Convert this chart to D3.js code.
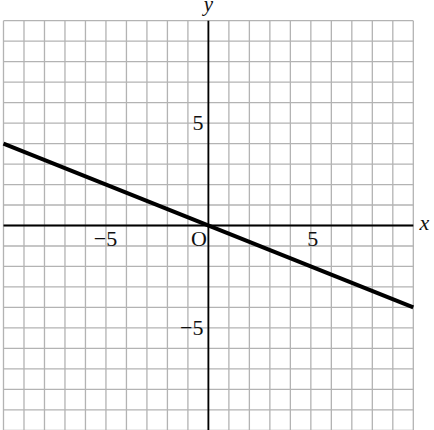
<!DOCTYPE html>
<html>
<head>
<meta charset="utf-8">
<script src="https://cdn.jsdelivr.net/npm/d3@7"></script>
<style>
  html, body { margin: 0; padding: 0; background: #fff; }
  svg { display: block; }
  text { font-family: "Liberation Serif", "DejaVu Serif", serif; fill: #111; }
</style>
</head>
<body>
<svg id="chart" width="434" height="430"></svg>
<script>
// grid runs from -10 to 10 on both axes
var gridSteps = d3.range(-10, 11);
var xTicks = [-5, 5];
var yTicks = [5, -5];
var lineX = [-10, 10];
var lineY = [4, -4];

var plotLeft = 3.5, plotRight = 413.3, plotTop = 20.7, plotBottom = 430.3;

var x = d3.scaleLinear().domain([-10, 10]).range([plotLeft, plotRight]);
var y = d3.scaleLinear().domain([-10, 10]).range([plotBottom, plotTop]);

var svg = d3.select("#chart");

function label(v) {
    return v < 0 ? "\u2212" + Math.abs(v) : String(v);
}

// grid
svg.append("g")
    .selectAll("line")
    .data(gridSteps)
    .enter().append("line")
    .attr("x1", function(d) { return x(d); })
    .attr("x2", function(d) { return x(d); })
    .attr("y1", y(10))
    .attr("y2", y(-10))
    .attr("stroke", "#b3b3b3")
    .attr("stroke-width", 1.3);

svg.append("g")
    .selectAll("line")
    .data(gridSteps)
    .enter().append("line")
    .attr("x1", x(-10))
    .attr("x2", x(10))
    .attr("y1", function(d) { return y(d); })
    .attr("y2", function(d) { return y(d); })
    .attr("stroke", "#b3b3b3")
    .attr("stroke-width", 1.3);

// axes
svg.append("line")
    .attr("x1", x(-10)).attr("x2", x(10))
    .attr("y1", y(0)).attr("y2", y(0))
    .attr("stroke", "#000").attr("stroke-width", 1.8);

svg.append("line")
    .attr("x1", x(0)).attr("x2", x(0))
    .attr("y1", y(10)).attr("y2", y(-10))
    .attr("stroke", "#000").attr("stroke-width", 1.8);

// the line itself
var pts = lineX.map(function(d, i) { return [d, lineY[i]]; });
svg.append("path")
    .datum(pts)
    .attr("d", d3.line().x(function(d) { return x(d[0]); }).y(function(d) { return y(d[1]); }))
    .attr("fill", "none")
    .attr("stroke", "#000")
    .attr("stroke-width", 4);

// tick labels
svg.append("g").selectAll("text")
    .data(xTicks)
    .enter().append("text")
    .attr("x", function(d) { return x(d) + (d < 0 ? -0.5 : 2); })
    .attr("y", y(0) + 20)
    .attr("text-anchor", "middle")
    .attr("font-size", 22)
    .text(label);

svg.append("g").selectAll("text")
    .data(yTicks)
    .enter().append("text")
    .attr("x", x(0) - 5)
    .attr("y", function(d) { return y(d) + 7; })
    .attr("text-anchor", "end")
    .attr("font-size", 22)
    .text(label);

svg.append("text")
    .attr("x", x(0) - 1.5)
    .attr("y", y(0) + 20)
    .attr("text-anchor", "end")
    .attr("font-size", 22)
    .text("O");

// axis names
svg.append("text")
    .attr("x", x(10) + 11)
    .attr("y", y(0) + 4)
    .attr("text-anchor", "middle")
    .attr("font-size", 22)
    .attr("font-style", "italic")
    .text("x");

svg.append("text")
    .attr("x", x(0))
    .attr("y", 11)
    .attr("text-anchor", "middle")
    .attr("font-size", 21)
    .attr("font-style", "italic")
    .text("y");
</script>
</body>
</html>
